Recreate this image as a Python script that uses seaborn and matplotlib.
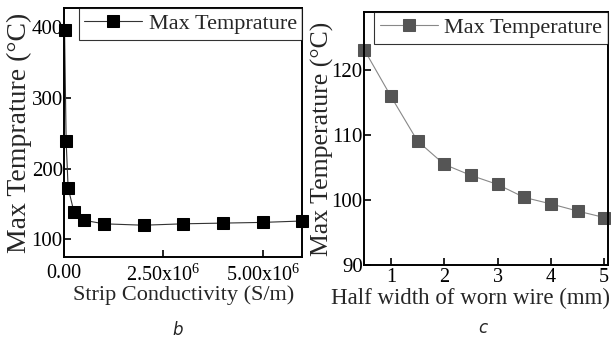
import numpy as np
import seaborn as sns
import matplotlib.pyplot as plt

# panel b: strip conductivity sweep
cond = [1e4, 5e4, 1e5, 2.5e5, 5e5, 1e6, 2e6, 3e6, 4e6, 5e6, 6e6]
temp_b = [396, 239, 173, 138, 127, 122, 120, 122, 123, 124, 126]

# panel c: half width of worn wire
half_width = [0.5, 1.0, 1.5, 2.0, 2.5, 3.0, 3.5, 4.0, 4.5, 5.0]
temp_c = [123.2, 116.0, 109.1, 105.5, 103.8, 102.4, 100.4, 99.4, 98.3, 97.3]

b_ticks = [0, 2.5e6, 5e6]
b_ticklabels = ['0.00', r'2.50x10$^{\mathrm{6}}$', r'5.00x10$^{\mathrm{6}}$']

sns.set_style('ticks')
plt.rcParams['font.family'] = ['Liberation Serif', 'DejaVu Serif']
plt.rcParams['mathtext.fontset'] = 'custom'
plt.rcParams['mathtext.rm'] = 'Liberation Serif'
plt.rcParams['font.size'] = 15

fig = plt.figure(figsize=(6.11, 3.40), dpi=100)
ax1 = fig.add_axes([0.105, 0.244, 0.390, 0.732])
ax2 = fig.add_axes([0.596, 0.221, 0.399, 0.744])

sns.lineplot(x=cond, y=temp_b, ax=ax1, color='#333333', linewidth=0.8,
             marker='s', markersize=8, markerfacecolor='black',
             markeredgecolor='black', label='Max Temprature')
ax1.set_xlim(0, 6e6)
ax1.set_ylim(75, 427)
ax1.set_xticks(b_ticks)
ax1.set_xticklabels(b_ticklabels)
ax1.set_yticks([100, 200, 300, 400])
ax1.set_xlabel('Strip Conductivity (S/m)', fontsize=16)
ax1.set_ylabel('Max Temprature (°C)', fontsize=20, labelpad=0)
ax1.xaxis.set_label_coords(0.5, -0.115)

sns.lineplot(x=half_width, y=temp_c, ax=ax2, color='#888888', linewidth=0.8,
             marker='s', markersize=8, markerfacecolor='#555555',
             markeredgecolor='#555555', label='Max Temperature')
ax2.set_xlim(0.5, 5.07)
ax2.set_ylim(90, 129)
ax2.set_xticks([1, 2, 3, 4, 5])
ax2.set_yticks([90, 100, 110, 120])
ax2.set_xlabel('Half width of worn wire (mm)', fontsize=16.5)
ax2.set_ylabel('Max Temperature (°C)', fontsize=18.5, labelpad=-2)
ax2.xaxis.set_label_coords(0.435, -0.09)

for ax in (ax1, ax2):
    for sp in ax.spines.values():
        sp.set_linewidth(1.4)
        sp.set_color('black')
    ax.tick_params(direction='in', length=5, width=1.2, pad=1, colors='black')
    for m in ax.lines:
        m.set_clip_on(False)
    leg = ax.legend(loc='upper right', borderaxespad=0, fancybox=False,
                    handlelength=2.6, handletextpad=0.3, borderpad=0.25,
                    fontsize=16)
    leg.get_frame().set_edgecolor('black')
    leg.get_frame().set_linewidth(0.8)

ax1.tick_params(axis='x', pad=5, labelsize=14.5)
ax2.tick_params(axis='x', pad=2.5, labelsize=14.5)

fig.text(0.29, 0.03, 'b', fontsize=12, style='italic',
         family='DejaVu Sans', ha='center', va='center')
fig.text(0.79, 0.035, 'c', fontsize=12, style='italic',
         family='DejaVu Sans', ha='center', va='center')
fig.text(0.527, 1.015, 'a', fontsize=12, style='italic',
         family='DejaVu Sans', ha='center', va='center')

fig.savefig('out.png', dpi=100, facecolor='white')
